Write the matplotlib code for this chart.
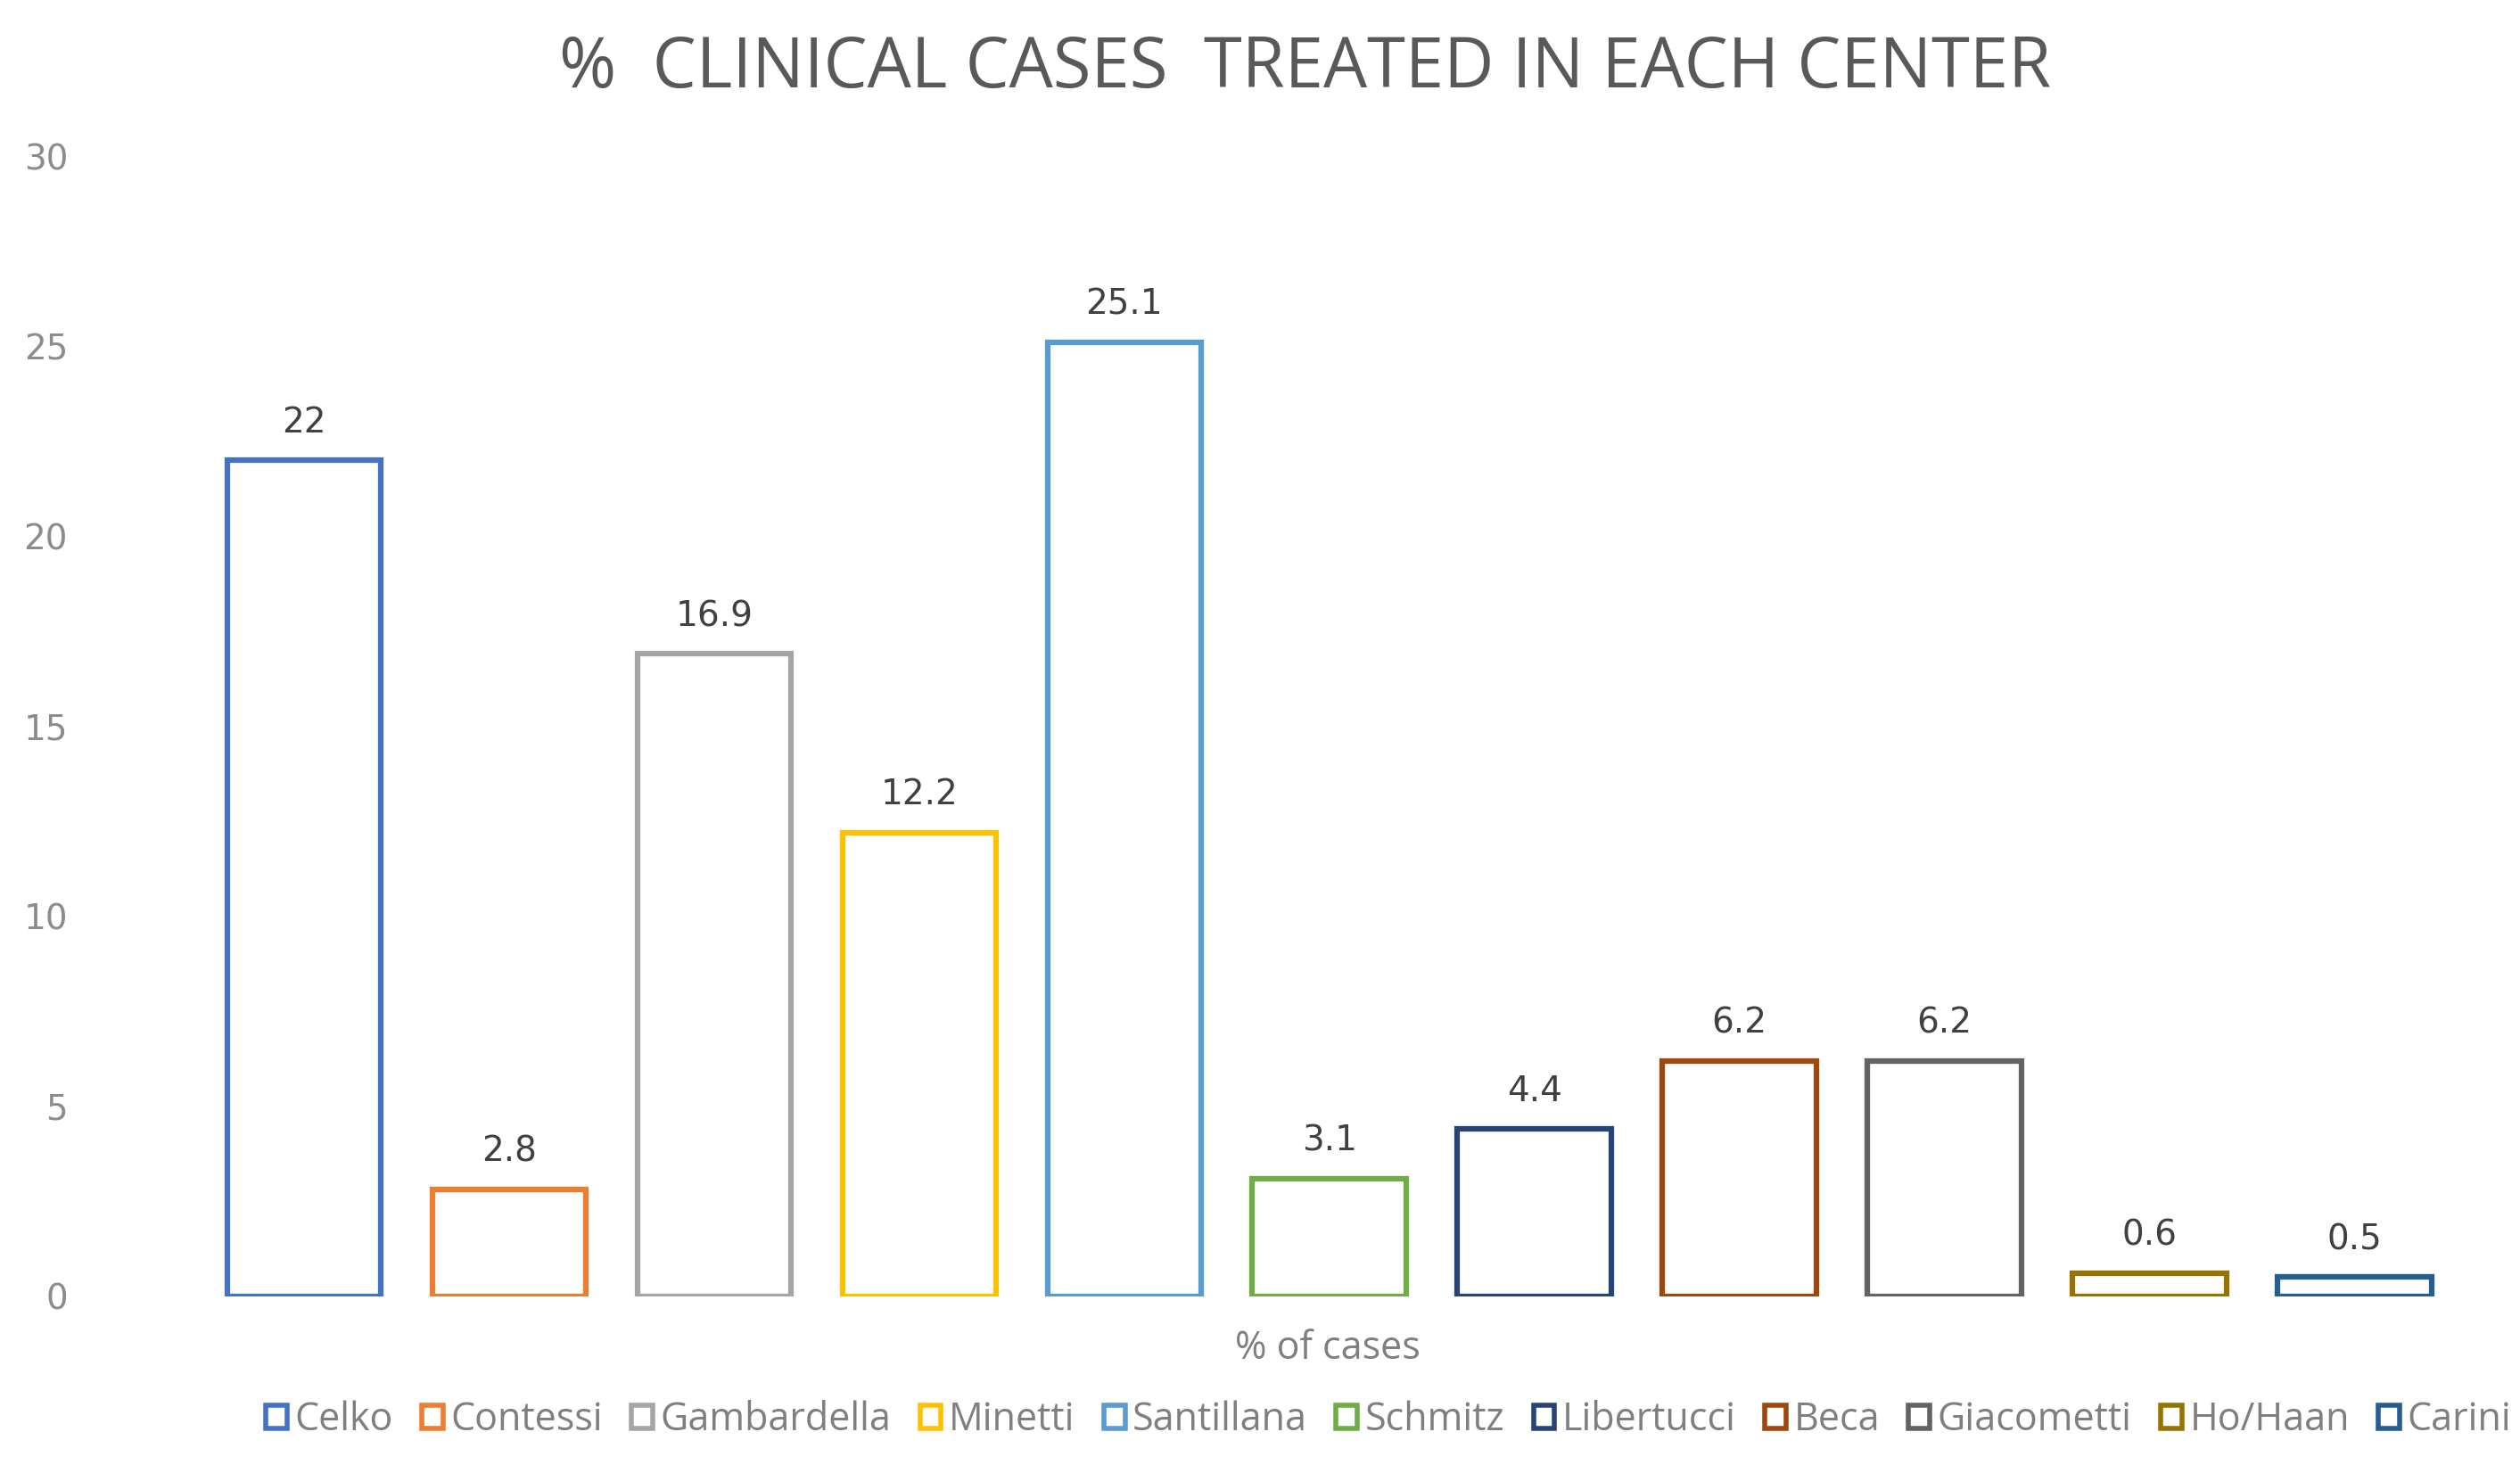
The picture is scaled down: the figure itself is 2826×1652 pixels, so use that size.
import matplotlib.pyplot as plt
from matplotlib.patches import Patch

centers = ['Celko', 'Contessi', 'Gambardella', 'Minetti', 'Santillana', 'Schmitz',
           'Libertucci', 'Beca', 'Giacometti', 'Ho/Haan', 'Carini']
values = [22, 2.8, 16.9, 12.2, 25.1, 3.1, 4.4, 6.2, 6.2, 0.6, 0.5]
value_labels = ['22', '2.8', '16.9', '12.2', '25.1', '3.1', '4.4', '6.2', '6.2', '0.6', '0.5']
colors = ['#4472C4', '#ED7D31', '#A5A5A5', '#FFC000', '#5B9BD5', '#70AD47',
          '#264478', '#9E480E', '#636363', '#997300', '#255E91']
yticks = [0, 5, 10, 15, 20, 25, 30]

fig = plt.figure(figsize=(28.26, 16.52), dpi=100)
ax = fig.add_axes([0.080, 0.120, 0.895, 0.774])

x = list(range(len(centers)))
ax.bar(x, values, width=0.75, facecolor='white', edgecolor=colors, linewidth=4.5)

for xi, v, lab in zip(x, values, value_labels):
    ax.text(xi, v + 0.55, lab, ha='center', va='bottom', fontsize=28,
            color='#404040', family='DejaVu Sans')

ax.set_xlim(-0.5, len(centers) - 0.5)
ax.set_ylim(0, 30)
ax.set_yticks(yticks)
ax.set_yticklabels([str(t) for t in yticks], fontsize=28, color='#8c8c8c', family='DejaVu Sans')
ax.set_xticks([])
ax.tick_params(axis='y', length=0, pad=108)
for s in ax.spines.values():
    s.set_visible(False)

fig.text(0.527, 0.084, '% of cases', ha='center', va='center', fontsize=31,
         color='#7f7f7f', family='Open Sans')
fig.text(0.518, 0.953, '%  CLINICAL CASES  TREATED IN EACH CENTER', ha='center', va='center',
         fontsize=56, color='#595959', family='Open Sans')

handles = [Patch(facecolor='white', edgecolor=c, linewidth=4) for c in colors]
leg = fig.legend(handles, centers, loc='center', bbox_to_anchor=(0.551, 0.036), ncol=11,
                 frameon=False, handlelength=0.55, handleheight=0.55, handletextpad=0.2,
                 columnspacing=0.75, prop={'family': 'Open Sans', 'size': 31})
for t in leg.get_texts():
    t.set_color('#7f7f7f')

fig.savefig('out.png', dpi=100)
